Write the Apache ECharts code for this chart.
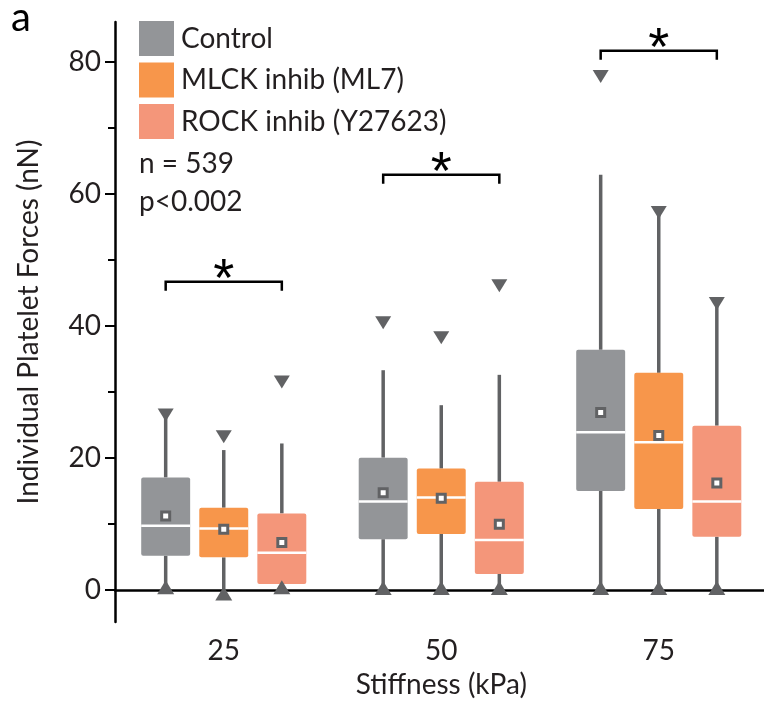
<!DOCTYPE html>
<html>
<head>
<meta charset="utf-8">
<script src="https://cdn.jsdelivr.net/npm/echarts@6/dist/echarts.min.js"></script>
<style>
  html, body { margin: 0; padding: 0; background: #fff; }
  #chart { width: 764px; height: 704px; }
</style>
</head>
<body>
<div id="chart"></div>
<script>
const stiffness = ['25', '50', '75'];
const groupNames = ['Control', 'MLCK inhib (ML7)', 'ROCK inhib (Y27623)'];

// [whisker low, Q1, median, Q3, whisker high] per stiffness
const controlBoxes = [[0.4, 5.2, 9.75, 17.05, 26.5], [0.3, 7.7, 13.4, 20.05, 33.3], [0.3, 15.0, 23.9, 36.4, 62.9]];
const controlMeans = [11.2, 14.75, 26.9];
const controlMax = [26.5, 40.5, 77.8];
const controlMin = [0.4, 0.3, 0.3];

const mlckBoxes = [[-0.55, 4.95, 9.3, 12.47, 21.2], [0.3, 8.5, 14.0, 18.4, 28.0], [0.3, 12.27, 22.4, 32.9, 57.2]];
const mlckMeans = [9.2, 13.9, 23.4];
const mlckMax = [23.2, 38.2, 57.2];
const mlckMin = [-0.55, 0.3, 0.3];

const rockBoxes = [[0.4, 0.9, 5.65, 11.6, 22.2], [0.3, 2.42, 7.58, 16.4, 32.6], [0.3, 8.08, 13.4, 24.9, 43.4]];
const rockMeans = [7.2, 9.95, 16.2];
const rockMax = [31.5, 46.1, 43.4];
const rockMin = [0.4, 0.3, 0.3];

// height of the significance brackets
const sigLevels = [46.7, 62.9, 81.7];

const yTicks = [0, 20, 40, 60, 80];
const yMinorTicks = [10, 30, 50, 70];

const FONT = 'Lato';
const TEXT = '#231f20';
const DARK = '#616264';
const colors = ['#939598', '#f7964b', '#f4967a'];
const offsets = [-0.267, 0, 0.267]; // fraction of category band

const chart = echarts.init(document.getElementById('chart'));

function makeData(boxes, means, maxs, mins) {
    return boxes.map((b, i) => [i, b[0], b[1], b[2], b[3], b[4], means[i], maxs[i], mins[i]]);
}

function boxRenderer(k) {
    return function (params, api) {
        const i = api.value(0);
        const band = api.size([1, 0])[0];
        const cx = api.coord([i, 0])[0] + offsets[k] * band;
        const y = v => api.coord([i, v])[1];
        const hw = band * 0.1125;
        const low = y(api.value(1)), q1 = y(api.value(2)), med = y(api.value(3));
        const q3 = y(api.value(4)), high = y(api.value(5)), mean = y(api.value(6));
        const ymax = y(api.value(7)), ymin = y(api.value(8));
        const lineStyle = { stroke: DARK, lineWidth: 3.5 };
        return {
            type: 'group',
            children: [
                { type: 'line', shape: { x1: cx, y1: q3, x2: cx, y2: high }, style: lineStyle },
                { type: 'line', shape: { x1: cx, y1: q1, x2: cx, y2: low }, style: lineStyle },
                { type: 'rect', shape: { x: cx - hw, y: q3, width: hw * 2, height: q1 - q3, r: 2 },
                  style: { fill: colors[k] } },
                { type: 'line', shape: { x1: cx - hw, y1: med, x2: cx + hw, y2: med },
                  style: { stroke: '#fff', lineWidth: 2.5 } },
                { type: 'rect', shape: { x: cx - 4, y: mean - 4, width: 8, height: 8 },
                  style: { fill: '#fff', stroke: DARK, lineWidth: 3 } },
                { type: 'polygon', shape: { points: [[cx - 8, ymax - 6.5], [cx + 8, ymax - 6.5], [cx, ymax + 6.5]] },
                  style: { fill: DARK } },
                { type: 'polygon', shape: { points: [[cx - 8.5, ymin + 7], [cx + 8.5, ymin + 7], [cx, ymin - 7]] },
                  style: { fill: DARK } }
            ]
        };
    };
}

function bracketRenderer(params, api) {
    const i = api.value(0);
    const band = api.size([1, 0])[0];
    const c = api.coord([i, api.value(1)]);
    const x1 = c[0] + offsets[0] * band, x2 = c[0] + offsets[2] * band;
    const yb = c[1];
    return {
        type: 'group',
        children: [
            { type: 'polyline', shape: { points: [[x1, yb + 9], [x1, yb], [x2, yb], [x2, yb + 9]] },
              style: { stroke: '#000', lineWidth: 2.5, fill: null } },
            { type: 'text', x: c[0], y: yb - 0.5,
              style: { text: '*', fontSize: 54, fontFamily: 'Liberation Sans', fill: '#000',
                       align: 'center', verticalAlign: 'middle' } }
        ]
    };
}

const groupData = [
    makeData(controlBoxes, controlMeans, controlMax, controlMin),
    makeData(mlckBoxes, mlckMeans, mlckMax, mlckMin),
    makeData(rockBoxes, rockMeans, rockMax, rockMin)
];

const series = groupNames.map((name, k) => ({
    name: name,
    type: 'custom',
    renderItem: boxRenderer(k),
    itemStyle: { color: colors[k] },
    encode: { x: 0, y: [1, 2, 3, 4, 5, 6, 7, 8] },
    data: groupData[k],
    silent: true
}));

series.push({
    name: 'sig',
    type: 'custom',
    renderItem: bracketRenderer,
    encode: { x: 0, y: 1 },
    data: sigLevels.map((v, i) => [i, v]),
    silent: true
});

const yBase = {
    type: 'value',
    min: -4.85,
    max: 86.06,
    splitLine: { show: false },
    position: 'left'
};

const option = {
    animation: false,
    backgroundColor: '#fff',
    grid: { left: 115, right: -3.5, top: 22, bottom: 82, containLabel: false, outerBoundsMode: 'none' },
    legend: {
        data: groupNames,
        orient: 'vertical',
        left: 139,
        top: 21,
        padding: 0,
        icon: 'rect',
        itemWidth: 35,
        itemHeight: 35,
        itemGap: 6.5,
        selectedMode: false,
        textStyle: { fontSize: 28, fontFamily: FONT, color: TEXT, padding: [0, 0, 0, 2] }
    },
    xAxis: {
        type: 'category',
        data: stiffness,
        name: 'Stiffness (kPa)',
        nameLocation: 'middle',
        nameGap: 49,
        nameTextStyle: { fontSize: 28, fontFamily: FONT, color: TEXT },
        axisLine: { lineStyle: { color: '#000', width: 2.5 } },
        axisTick: { show: false },
        axisLabel: { fontSize: 28, fontFamily: FONT, color: TEXT, margin: 15 }
    },
    yAxis: [
        Object.assign({}, yBase, {
            name: 'Individual Platelet Forces (nN)',
            nameLocation: 'middle',
            nameGap: 72,
            nameTextStyle: { fontSize: 28, fontFamily: FONT, color: TEXT },
            axisLine: { show: true, lineStyle: { color: '#000', width: 2.5 } },
            axisTick: { show: true, length: 10, customValues: yTicks, lineStyle: { color: '#000', width: 2 } },
            axisLabel: { fontSize: 28, fontFamily: FONT, color: TEXT, margin: 14, customValues: yTicks }
        }),
        Object.assign({}, yBase, {
            axisLine: { show: false },
            axisTick: { show: true, length: 7, customValues: yMinorTicks, lineStyle: { color: '#000', width: 2 } },
            axisLabel: { show: false }
        })
    ],
    graphic: [
        { type: 'text', left: 11, top: -2, style: { text: 'a', fontSize: 40, fontFamily: FONT, fill: '#000' } },
        { type: 'text', left: 139, top: 150, style: { text: 'n = 539', fontSize: 28, fontFamily: FONT, fill: TEXT } },
        { type: 'text', left: 139, top: 188, style: { text: 'p<0.002', fontSize: 28, fontFamily: FONT, fill: TEXT } }
    ],
    series: series
};

chart.setOption(option);
</script>
</body>
</html>
